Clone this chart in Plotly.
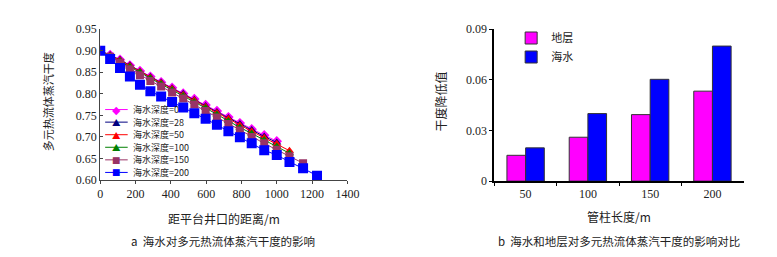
import plotly.graph_objects as go

# ---------------- data: left chart ----------------
dist = [0, 56, 112, 168, 225, 284, 345, 407, 470, 533, 597, 661, 726, 791, 858, 929, 1000, 1072, 1149, 1228]

s0 = [0.900, 0.890, 0.879, 0.866, 0.853, 0.840, 0.827, 0.814, 0.801, 0.788, 0.774, 0.760, 0.746, 0.732, 0.718, 0.704, 0.690]
s28 = [0.900, 0.890, 0.879, 0.866, 0.852, 0.839, 0.826, 0.813, 0.800, 0.786, 0.772, 0.758, 0.744, 0.730, 0.716, 0.701, 0.687]
s50 = [0.900, 0.889, 0.878, 0.865, 0.852, 0.838, 0.825, 0.812, 0.798, 0.785, 0.770, 0.756, 0.742, 0.727, 0.713, 0.698, 0.684, 0.668]
s100 = [0.900, 0.888, 0.876, 0.863, 0.850, 0.836, 0.823, 0.809, 0.795, 0.781, 0.767, 0.752, 0.737, 0.722, 0.708, 0.693, 0.678, 0.662]
s150 = [0.900, 0.886, 0.872, 0.857, 0.843, 0.830, 0.817, 0.803, 0.789, 0.775, 0.760, 0.745, 0.730, 0.715, 0.700, 0.685, 0.670, 0.655, 0.639]
s200 = [0.900, 0.881, 0.860, 0.840, 0.821, 0.806, 0.794, 0.781, 0.768, 0.755, 0.742, 0.728, 0.713, 0.699, 0.685, 0.669, 0.658, 0.642, 0.627, 0.610]

series_names = ["海水深度=0", "海水深度=28", "海水深度=50", "海水深度=100", "海水深度=150", "海水深度=200"]

# ---------------- data: right chart ----------------
pipe_len = ["50", "100", "150", "200"]
stratum = [0.0153, 0.0260, 0.0394, 0.0533]
seawater = [0.0197, 0.0400, 0.0603, 0.0800]

# ---------------- styles ----------------
styles = [
    dict(color="#FF00FF", symbol="diamond", size=8, glyph="◆"),
    dict(color="#000080", symbol="triangle-up", size=8, glyph="▲"),
    dict(color="#FF0000", symbol="triangle-up", size=8, glyph="▲"),
    dict(color="#008000", symbol="triangle-up", size=8, glyph="▲"),
    dict(color="#993366", symbol="square", size=8, glyph="■"),
    dict(color="#0000FF", symbol="square", size=10, glyph="■"),
]

fig = go.Figure()
for name, ys, st in zip(series_names, [s0, s28, s50, s100, s150, s200], styles):
    fig.add_trace(go.Scatter(
        x=dist[:len(ys)], y=ys, name=name, mode="lines+markers",
        line=dict(color=st["color"], width=1),
        marker=dict(color=st["color"], symbol=st["symbol"], size=st["size"]),
        xaxis="x", yaxis="y", showlegend=False,
    ))

fig.add_trace(go.Bar(x=pipe_len, y=stratum, name="地层", marker=dict(color="#FF00FF", line=dict(color="#333333", width=1)),
                     xaxis="x2", yaxis="y2"))
fig.add_trace(go.Bar(x=pipe_len, y=seawater, name="海水", marker=dict(color="#0000FF", line=dict(color="#333333", width=1)),
                     xaxis="x2", yaxis="y2"))

num_font = dict(family="Liberation Serif, serif", size=12, color="#222222")
cjk = "Noto Sans CJK SC"
txt_col = "#222222"

W, H = 777, 257
def px(x):
    return x / W
def py(y):
    return 1 - y / H

def ann(text, x, y, size, xanchor="center", angle=0, color=txt_col, family=cjk, align="center"):
    return dict(text=text, x=px(x), y=py(y), xref="paper", yref="paper",
                xanchor=xanchor, yanchor="middle", textangle=angle, showarrow=False,
                borderpad=0, align=align, font=dict(family=family, size=size, color=color))

annotations = [
    ann("距平台井口的距离/m", 217, 215, 12),
    ann("a  海水对多元热流体蒸汽干度的影响", 216, 239, 11.5),
    ann("多元热流体蒸汽干度", 38, 92, 11, angle=-90),
    ann("管柱长度/m", 620, 213, 12),
    ann("b  海水和地层对多元热流体蒸汽干度的影响对比", 620, 239, 11.5),
    ann("干度降低值", 438, 92, 12, angle=-90),
]
shapes = []

# left legend drawn as rows: a short line, a marker glyph and the name
leg_y0, leg_dy = 100, 13.3
for i, (name, st) in enumerate(zip(series_names, styles)):
    yy = leg_y0 + i * leg_dy
    shapes.append(dict(type="line", xref="paper", yref="paper",
                       x0=px(96), x1=px(119), y0=py(yy), y1=py(yy),
                       line=dict(color=st["color"], width=1)))
    annotations.append(ann(st["glyph"], 107.5, yy, 8.5, color=st["color"]))
    annotations.append(ann(name, 123, yy, 9, xanchor="left"))

fig.update_layout(
    width=W, height=H,
    margin=dict(l=0, r=0, t=0, b=0),
    paper_bgcolor="white", plot_bgcolor="white",
    showlegend=True,
    barmode="group", bargap=0.4, bargroupgap=0,
    xaxis=dict(domain=[px(91), px(343)], range=[0, 1400], dtick=200, tick0=0,
               showline=True, linecolor="#444444", linewidth=1, mirror=False,
               ticks="outside", ticklen=3, tickcolor="#444444",
               showgrid=False, zeroline=False, tickfont=num_font, anchor="y"),
    yaxis=dict(domain=[py(174.5), py(15)], range=[0.6, 0.95], dtick=0.05, tick0=0.6,
               tickformat=".2f",
               showline=True, linecolor="#444444", linewidth=1,
               ticks="inside", ticklen=3, tickcolor="#444444",
               showgrid=False, zeroline=False, tickfont=num_font, anchor="x"),
    xaxis2=dict(domain=[px(493), px(747)], type="category",
                showline=True, linecolor="black", linewidth=2,
                ticks="outside", tickson="boundaries", ticklen=3, tickcolor="black",
                showgrid=False, zeroline=False, tickfont=num_font, anchor="y2"),
    yaxis2=dict(domain=[py(175.7), py(15)], range=[0, 0.09],
                tickvals=[0, 0.03, 0.06, 0.09], ticktext=["0", "0.03", "0.06", "0.09"],
                showline=True, linecolor="black", linewidth=2,
                ticks="outside", ticklen=3, tickcolor="black",
                showgrid=False, zeroline=False, tickfont=num_font, anchor="x2"),
    legend=dict(x=px(510), y=py(9), xanchor="left", yanchor="top",
                bgcolor="rgba(0,0,0,0)", font=dict(family=cjk, size=11, color=txt_col),
                tracegroupgap=0, itemwidth=30),
    annotations=annotations,
    shapes=shapes,
)

fig.write_html("out.html")
